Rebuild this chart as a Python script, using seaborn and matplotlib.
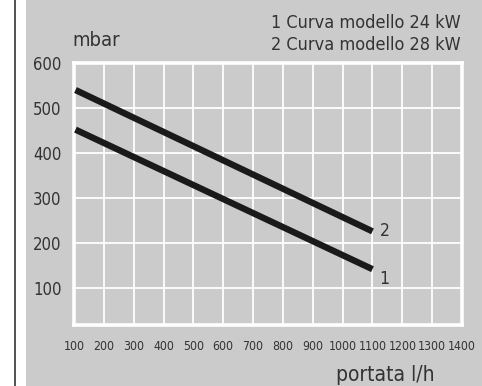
import matplotlib
matplotlib.use("Agg")
import matplotlib.pyplot as plt
import seaborn as sns
import pandas as pd
from matplotlib.patches import Rectangle
from matplotlib.lines import Line2D

# Pressure curves (mbar) vs flow rate (l/h)
flow = [105, 1100]
curve_24kw = [452, 142]
curve_28kw = [540, 226]
x_ticks = [100, 200, 300, 400, 500, 600, 700, 800, 900, 1000, 1100, 1200, 1300, 1400]
y_ticks = [100, 200, 300, 400, 500, 600]
legend_lines = ["1 Curva modello 24 kW", "2 Curva modello 28 kW"]

df = pd.DataFrame({
    "portata": flow * 2,
    "mbar": curve_24kw + curve_28kw,
    "modello": ["1"] * len(flow) + ["2"] * len(flow),
})

sns.set_theme(style="white")
plt.rcParams["font.family"] = ["DejaVu Sans"]
plt.rcParams["font.stretch"] = "condensed"

W, H = 482, 386
fig = plt.figure(figsize=(W / 100, H / 100), dpi=100)
fig.patch.set_facecolor("white")
bg = "#cbcbcc"
txt = "#333333"

# grey panel and left rule
fig.patches.append(Rectangle((26 / W, 0), 1 - 26 / W, 1, transform=fig.transFigure,
                             facecolor=bg, edgecolor="none", zorder=-5))
fig.lines.append(Line2D([15 / W, 15 / W], [0, 1], transform=fig.transFigure,
                        color="#333333", linewidth=1.2, zorder=-5))

left, right, top, bottom = 74, 462, 63, 325
ax = fig.add_axes([left / W, (H - bottom) / H, (right - left) / W, (bottom - top) / H])
ax.set_zorder(2)
ax.set_facecolor(bg)

sns.lineplot(data=df, x="portata", y="mbar", units="modello", estimator=None,
             color="#1a1a1a", linewidth=4.6, solid_capstyle="butt", ax=ax, zorder=3)

ax.set_xlim(100, 1393)
ax.set_ylim(18, 600)
ax.set_xticks(x_ticks)
ax.set_yticks(y_ticks)
ax.set_xticklabels([str(v) for v in x_ticks], fontsize=8.8, color=txt)
ax.set_yticklabels([str(v) for v in y_ticks], fontsize=12, color=txt)
ax.tick_params(axis="x", length=0, pad=11)
ax.tick_params(axis="y", length=0, pad=9)
ax.grid(True, color="white", linewidth=1.3)
for s in ax.spines.values():
    s.set_color("white")
    s.set_linewidth(2.6)
ax.set_xlabel("")
ax.set_ylabel("")
leg = ax.get_legend()
if leg is not None:
    leg.remove()

# curve numbers at line ends
ax.text(1140, curve_28kw[-1], "2", fontsize=12.5, color=txt, ha="center", va="center")
ax.text(1140, curve_24kw[-1] - 22, "1", fontsize=12.5, color=txt, ha="center", va="center")

fig.text(72 / W, 1 - 41 / H, "mbar", fontsize=14.5, color=txt, ha="left", va="center")
fig.text(461 / W, 1 - 23 / H, legend_lines[0], fontsize=13, color=txt, ha="right", va="center")
fig.text(461 / W, 1 - 45 / H, legend_lines[1], fontsize=13, color=txt, ha="right", va="center")
fig.text(435 / W, 1 - 375 / H, "portata l/h", fontsize=15, color=txt, ha="right", va="center")

fig.savefig("out.png", dpi=100)
